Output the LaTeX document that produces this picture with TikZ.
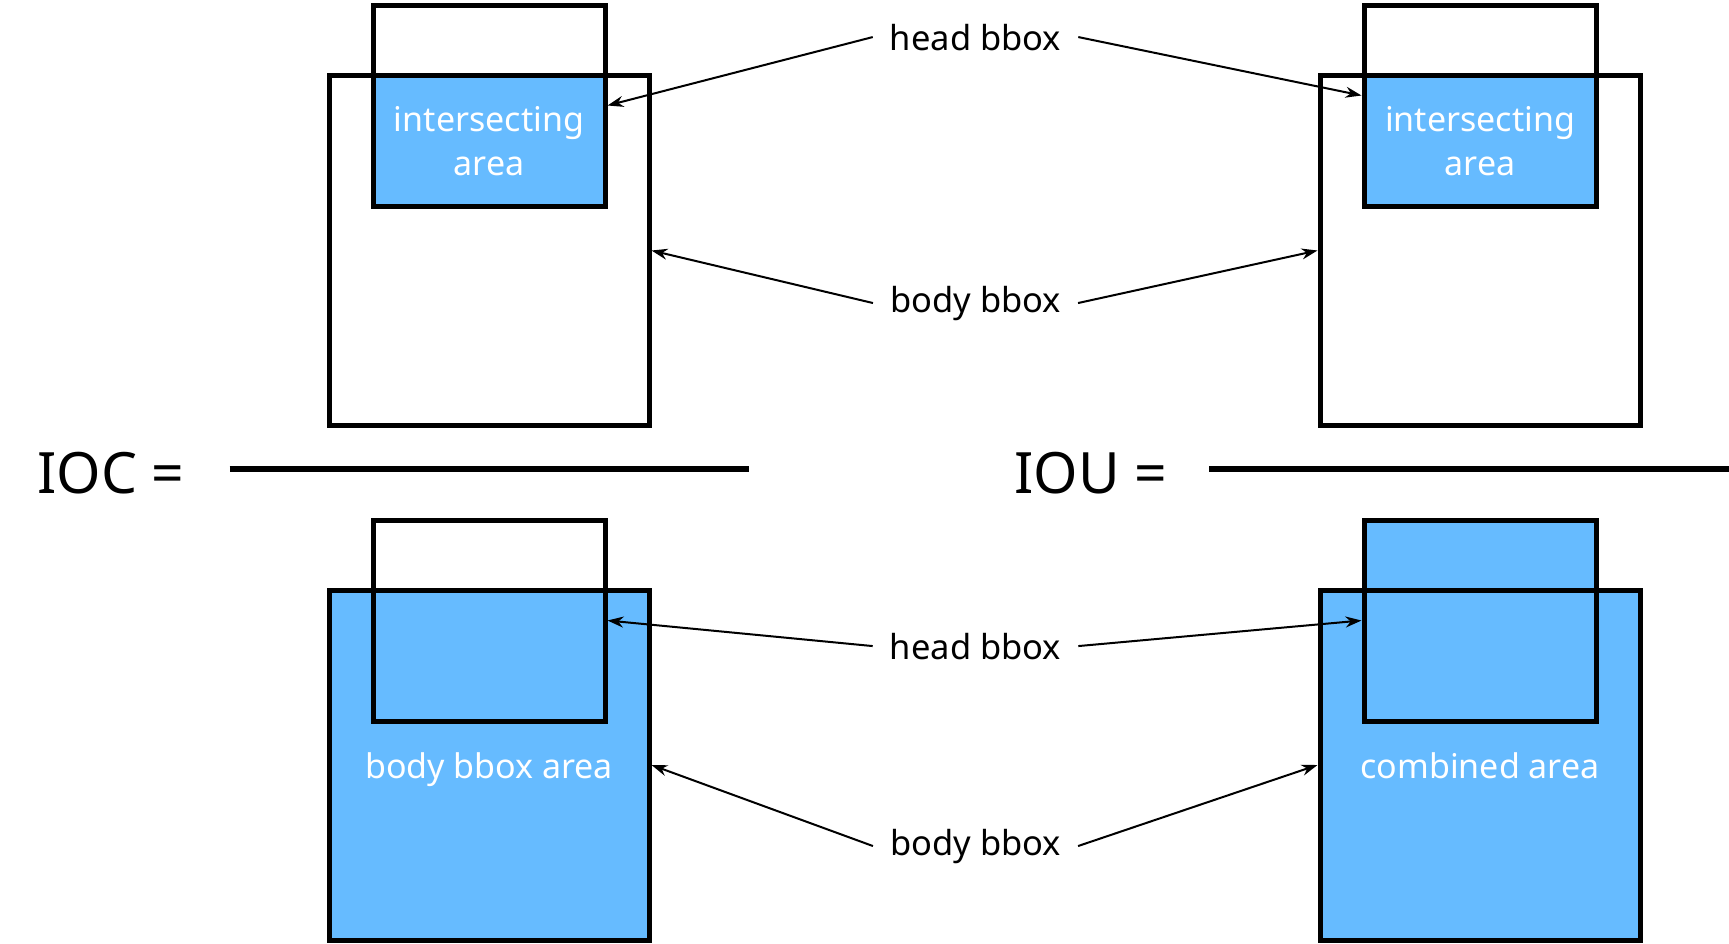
\documentclass[tikz,border=0pt]{standalone}
\usepackage{fontspec}
\setmainfont{Noto Sans}
\usepackage{xcolor}
\usetikzlibrary{arrows.meta,positioning,backgrounds}
\definecolor{areablue}{RGB}{102,187,255}

\begin{document}
\begin{tikzpicture}[x=1pt,y=-1pt,
                box/.style = {draw, line width=5pt, rectangle, inner sep=0pt},
                headbox/.style = {box, minimum width=232pt, minimum height=201pt},
                bodybox/.style = {box, minimum width=320pt, minimum height=350pt},
                lbl/.style = {font=\fontsize{34.5}{40}\selectfont, inner xsep=17pt, anchor=base},
                inlbl/.style = {font=\fontsize{34}{44}\selectfont, text=white, align=center},
                eqlbl/.style = {font=\fontsize{57}{60}\selectfont, anchor=base west, inner sep=0pt},
                fracline/.style = {line width=6pt},
                pointer/.style = {line width=2pt, -{Stealth[length=16pt,width=11pt]}}]
            \useasboundingbox (0,0) rectangle (1729,943);
            % IOC, top
            \node[bodybox] (bodyA) at (489,250.5) {};
            \node[headbox] (headA) at (489,105.5) {};
            \node[inlbl] (interA) at (489,141) {intersecting\\area};
            % IOU, top
            \node[bodybox] (bodyB) at (1480,250.5) {};
            \node[headbox] (headB) at (1480,105.5) {};
            \node[inlbl] (interB) at (1480,141) {intersecting\\area};
            % IOC, bottom
            \node[bodybox, fill=areablue] (bodyC) at (489,765) {};
            \node[headbox] (headC) at (489,620.5) {};
            \node[inlbl, anchor=base] (bodyareaC) at (489,778) {body bbox area};
            % IOU, bottom
            \node[bodybox] (bodyD) at (1480,765) {};
            \node[headbox] (headD) at (1480,620.5) {};
            \node[inlbl, anchor=base] (combinedD) at (1480,778) {combined area};
            \begin{scope}[on background layer]
                \fill[areablue] (headA.south west) rectangle (headA.east |- bodyA.north);
                \fill[areablue] (headB.south west) rectangle (headB.east |- bodyB.north);
                \fill[areablue] (headD.south west) rectangle (headD.north east);
                \fill[areablue] (bodyD.south west) rectangle (bodyD.north east);
            \end{scope}
            % fractions
            \node[eqlbl] (ioc) at (37,493) {IOC =};
            \node[eqlbl] (iou) at (1014,493) {IOU =};
            \coordinate (iocL) at (229.6,469);
            \coordinate (iocR) at (749,469);
            \coordinate (iouL) at (1209,469);
            \coordinate (iouR) at (1729,469);
            \draw[fracline] (iocL) -- (iocR);
            \draw[fracline] (iouL) -- (iouR);
            % labels
            \node[lbl] (headlblT) at (975.5,50) {head bbox};
            \node[lbl] (bodylblT) at (975.5,312) {body bbox};
            \node[lbl] (headlblB) at (975.5,659) {head bbox};
            \node[lbl] (bodylblB) at (975.5,855) {body bbox};
            \draw[pointer] (headlblT.west) -- (headA.east);
            \draw[pointer] (headlblT.east) -- ([yshift=10pt]headB.west);
            \draw[pointer] (bodylblT.west) -- (bodyA.east);
            \draw[pointer] (bodylblT.east) -- (bodyB.west);
            \draw[pointer] (headlblB.west) -- (headC.east);
            \draw[pointer] (headlblB.east) -- (headD.west);
            \draw[pointer] (bodylblB.west) -- (bodyC.east);
            \draw[pointer] (bodylblB.east) -- (bodyD.west);
            \end{tikzpicture}
\end{document}
